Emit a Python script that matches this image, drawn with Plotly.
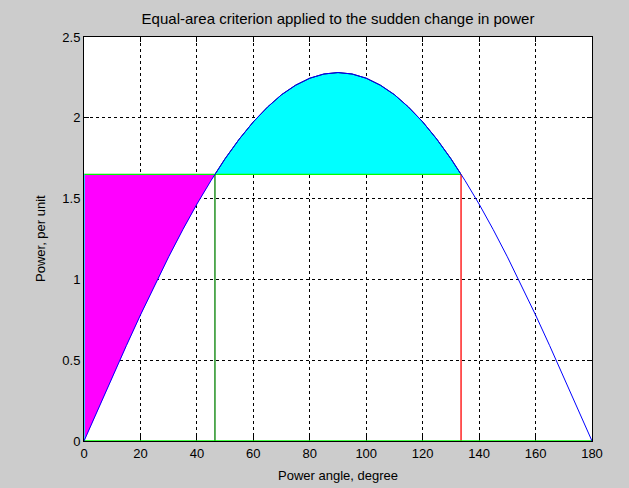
import plotly.graph_objects as go

# Data
angle_deg = [0, 5, 10, 15, 20, 25, 30, 35, 40, 45, 46.4, 50, 55, 60, 65, 70, 75, 80, 85, 90,
             95, 100, 105, 110, 115, 120, 125, 130, 133.6, 135, 140, 145, 150, 155, 160, 165, 170, 175, 180]
power_pu = [0.000, 0.199, 0.396, 0.590, 0.780, 0.964, 1.140, 1.308, 1.466, 1.612, 1.650, 1.747, 1.868,
            1.975, 2.066, 2.143, 2.202, 2.245, 2.271, 2.280, 2.271, 2.245, 2.202, 2.143, 2.066, 1.975,
            1.868, 1.747, 1.650, 1.612, 1.466, 1.308, 1.140, 0.964, 0.780, 0.590, 0.396, 0.199, 0.000]
p_mech = 1.65
delta0 = 46.4
delta_max = 133.6
x_ticks = [0, 20, 40, 60, 80, 100, 120, 140, 160, 180]
y_ticks = [0, 0.5, 1, 1.5, 2, 2.5]

i0 = angle_deg.index(delta0)
i1 = angle_deg.index(delta_max)

fig = go.Figure()

# Accelerating area (magenta)
fig.add_trace(go.Scatter(
    x=angle_deg[:i0 + 1] + [0], y=power_pu[:i0 + 1] + [p_mech],
    fill='toself', fillcolor='#FF00FF', mode='lines', line=dict(color='#FF00FF', width=0.5),
    hoverinfo='skip', showlegend=False))
# Decelerating area (cyan)
fig.add_trace(go.Scatter(
    x=angle_deg[i0:i1 + 1], y=power_pu[i0:i1 + 1],
    fill='toself', fillcolor='#00FFFF', mode='lines', line=dict(color='#000040', width=1),
    hoverinfo='skip', showlegend=False))
# Mechanical power line
fig.add_trace(go.Scatter(x=[0, delta_max], y=[p_mech, p_mech], mode='lines',
                         line=dict(color='#00FF00', width=1.2), showlegend=False))
# Vertical at delta0
fig.add_trace(go.Scatter(x=[delta0, delta0], y=[0, p_mech], mode='lines',
                         line=dict(color='#008000', width=1.3), showlegend=False))
# Vertical at delta_max
fig.add_trace(go.Scatter(x=[delta_max, delta_max], y=[0, p_mech], mode='lines',
                         line=dict(color='#FF0000', width=1.3), showlegend=False))
# Left edge of accelerating area
fig.add_trace(go.Scatter(x=[0, 0], y=[0, p_mech], mode='lines',
                         line=dict(color='#00FFFF', width=1.5), showlegend=False))
# Baseline
fig.add_trace(go.Scatter(x=[0, 180], y=[0, 0], mode='lines',
                         line=dict(color='#00FF00', width=1.5), showlegend=False))
# Power-angle curve
fig.add_trace(go.Scatter(x=angle_deg, y=power_pu, mode='lines',
                         line=dict(color='#0000FF', width=1), showlegend=False))

font = dict(family='Liberation Sans, Arial, sans-serif', size=13, color='black')
title_font = dict(family='Liberation Sans, Arial, sans-serif', size=15, color='black')

axis_common = dict(showline=True, linecolor='black', linewidth=1, mirror='ticks',
                   ticks='inside', ticklen=5, tickcolor='black', tickwidth=1,
                   showgrid=True, gridcolor='black', gridwidth=1, griddash='dot',
                   zeroline=False, layer='below traces', tickfont=font)

fig.update_layout(
    width=629, height=488,
    margin=dict(l=84, r=37, t=37, b=47),
    paper_bgcolor='#CCCCCC', plot_bgcolor='white',
    font=font,
    title=dict(text='Equal-area criterion applied to the sudden change in power',
               x=(84 + 592) / 2 / 629, xanchor='center', y=1 - 19 / 488, yanchor='middle',
               font=title_font),
    xaxis=dict(range=[0, 180], tickvals=x_ticks, ticktext=[str(v) for v in x_ticks], **axis_common),
    yaxis=dict(range=[0, 2.5], tickvals=y_ticks, ticktext=[f'{v:g}' for v in y_ticks], **axis_common),
    annotations=[
        dict(text='Power angle, degree', xref='paper', yref='paper', x=0.5, y=-34 / 404,
             showarrow=False, font=font, xanchor='center', yanchor='middle'),
        dict(text='Power, per unit', xref='paper', yref='paper', x=-44 / 508, y=0.5,
             showarrow=False, font=font, textangle=-90, xanchor='center', yanchor='middle'),
    ],
)

fig.write_html('out.html')
